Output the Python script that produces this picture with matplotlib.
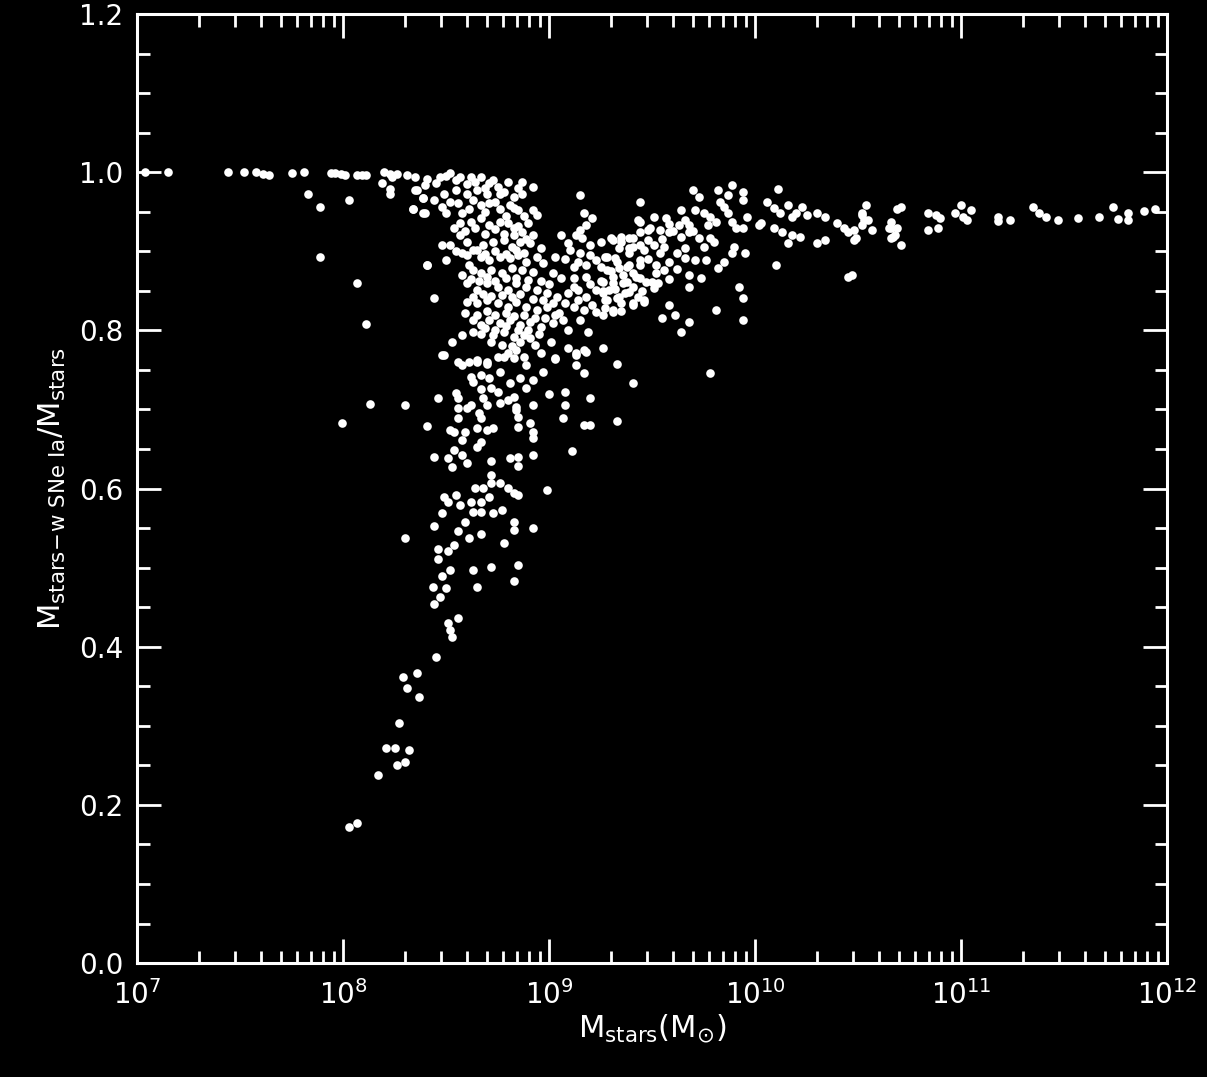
import numpy as np
import matplotlib
matplotlib.use('Agg')
import matplotlib.pyplot as plt
from matplotlib.ticker import MultipleLocator, LogLocator

# (log10 M_stars, M_stars-w SNe Ia / M_stars)
low_plateau = np.array([
    (7.04, 1.000), (7.15, 1.000), (7.44, 1.000), (7.52, 1.000), (7.58, 1.000),
    (7.61, 0.998), (7.64, 0.997), (7.75, 0.999), (7.81, 1.000), (7.94, 0.999),
    (7.96, 0.999), (7.99, 0.998), (8.01, 0.997), (8.07, 0.996), (8.09, 0.996),
    (8.11, 0.997), (8.20, 1.000), (8.23, 0.998), (8.24, 0.994), (8.26, 0.998),
])

low_scatter = np.array([
    (7.83, 0.973), (7.89, 0.956), (7.89, 0.893), (8.03, 0.965), (8.07, 0.860),
    (8.11, 0.808), (7.995, 0.683), (8.13, 0.707), (8.30, 0.705), (8.30, 0.538),
    (8.19, 0.986), (8.23, 0.979), (8.34, 0.954), (8.39, 0.949), (8.39, 0.967),
    (8.35, 0.978), (8.41, 0.882), (8.23, 0.972),
])

tail = np.array([
    (8.437, 0.475), (8.50, 0.474), (8.65, 0.475), (8.47, 0.463), (8.44, 0.454),
    (8.51, 0.430), (8.56, 0.436), (8.52, 0.421), (8.53, 0.412), (8.45, 0.387),
    (8.36, 0.367), (8.29, 0.362), (8.31, 0.348), (8.37, 0.336), (8.27, 0.303),
    (8.21, 0.272), (8.25, 0.272), (8.32, 0.269), (8.30, 0.254), (8.26, 0.250),
    (8.17, 0.238), (8.07, 0.177), (8.03, 0.172),
])

mid_branch = np.array([
    (8.44, 0.552), (8.46, 0.523), (8.46, 0.511), (8.51, 0.521), (8.54, 0.528),
    (8.48, 0.490), (8.52, 0.497), (8.63, 0.497), (8.72, 0.501), (8.85, 0.503),
    (8.83, 0.483), (8.78, 0.531), (8.67, 0.542), (8.61, 0.537), (8.56, 0.546),
    (8.59, 0.558), (8.83, 0.547), (8.83, 0.558), (8.92, 0.550), (8.48, 0.569),
    (8.57, 0.579), (8.62, 0.583), (8.63, 0.570), (8.67, 0.570), (8.73, 0.569),
    (8.77, 0.573), (8.67, 0.583), (8.64, 0.601), (8.68, 0.601), (8.71, 0.589),
    (8.49, 0.589), (8.51, 0.583), (8.55, 0.592), (8.72, 0.617), (8.72, 0.607),
    (8.76, 0.607), (8.80, 0.601), (8.83, 0.594), (8.85, 0.592), (8.99, 0.598),
    (8.44, 0.640), (8.51, 0.638), (8.53, 0.627), (8.54, 0.649), (8.58, 0.642),
    (8.60, 0.632), (8.72, 0.635), (8.81, 0.638), (8.85, 0.640), (8.85, 0.628),
    (8.92, 0.642), (9.11, 0.647), (8.58, 0.661), (8.65, 0.652), (8.67, 0.659),
    (8.54, 0.671), (8.52, 0.674), (8.59, 0.671), (8.41, 0.679), (8.65, 0.676),
    (8.70, 0.674), (8.73, 0.676), (8.85, 0.678), (8.91, 0.683), (8.92, 0.671),
    (8.92, 0.664), (9.17, 0.680), (9.20, 0.680), (9.33, 0.686), (8.56, 0.689),
    (8.66, 0.695), (8.67, 0.689), (8.56, 0.702), (8.60, 0.702), (8.62, 0.705),
    (8.68, 0.714), (8.70, 0.705), (8.76, 0.708), (8.80, 0.712), (8.84, 0.703),
    (8.85, 0.690), (8.92, 0.705), (9.08, 0.705), (9.07, 0.689), (9.20, 0.714),
    (9.00, 0.719), (9.08, 0.722), (8.46, 0.714), (8.55, 0.721), (8.56, 0.714),
    (8.67, 0.726), (8.75, 0.722), (8.83, 0.716), (8.89, 0.727), (8.84, 0.699),
    (8.92, 0.737), (8.97, 0.747), (9.13, 0.756), (9.17, 0.746), (9.03, 0.764),
    (9.41, 0.733), (9.33, 0.758), (9.78, 0.746),
    (8.58, 0.756), (8.62, 0.741), (8.63, 0.735), (8.67, 0.743), (8.71, 0.740),
    (8.72, 0.727), (8.76, 0.747), (8.81, 0.733), (8.86, 0.740), (8.49, 0.769),
    (8.56, 0.760), (8.65, 0.760), (8.70, 0.758), (8.78, 0.766), (8.83, 0.765),
    (8.89, 0.756), (9.13, 0.769), (9.18, 0.772),
])

core = np.array([
    (8.31, 0.996), (8.35, 0.994), (8.41, 0.992), (8.47, 0.994), (8.52, 0.999),
    (8.57, 0.994), (8.62, 0.994), (8.67, 0.994), (8.71, 0.986), (8.75, 0.981),
    (8.80, 0.987), (8.87, 0.987), (8.92, 0.981), (9.15, 0.971),
    (8.36, 0.977), (8.40, 0.984), (8.45, 0.986), (8.39, 0.967), (8.34, 0.954),
    (8.40, 0.949), (8.44, 0.965), (8.49, 0.973), (8.55, 0.977), (8.60, 0.973),
    (8.65, 0.977), (8.70, 0.973), (8.76, 0.973), (8.83, 0.968), (8.87, 0.973),
    (8.48, 0.956), (8.50, 0.948), (8.56, 0.961), (8.61, 0.954), (8.67, 0.958),
    (8.71, 0.961), (8.76, 0.954), (8.81, 0.958), (8.85, 0.952), (8.92, 0.952),
    (8.94, 0.946), (8.90, 0.936), (9.17, 0.948), (9.21, 0.942), (9.18, 0.933),
    (9.15, 0.927),
    (8.57, 0.936), (8.62, 0.937), (8.67, 0.942), (8.71, 0.933), (8.76, 0.937),
    (8.80, 0.936), (8.83, 0.930), (8.87, 0.924), (8.92, 0.920), (8.83, 0.920),
    (8.48, 0.908), (8.52, 0.908), (8.57, 0.920), (8.60, 0.912), (8.63, 0.901),
    (8.68, 0.908), (8.73, 0.912), (8.78, 0.914), (8.82, 0.905), (8.86, 0.912),
    (8.91, 0.910), (8.96, 0.904),
    (8.41, 0.882), (8.50, 0.889), (8.58, 0.898), (8.61, 0.882), (8.67, 0.893),
    (8.71, 0.889), (8.76, 0.893), (8.81, 0.891), (8.85, 0.895), (8.89, 0.886),
    (8.97, 0.885), (9.03, 0.893),
    (8.58, 0.870), (8.63, 0.876), (8.67, 0.872), (8.72, 0.876), (8.77, 0.872),
    (8.82, 0.879), (8.87, 0.876), (8.92, 0.874), (9.02, 0.872),
    (8.44, 0.841), (8.60, 0.860), (8.65, 0.851), (8.70, 0.860), (8.75, 0.855),
    (8.80, 0.851), (8.84, 0.860), (8.89, 0.855), (8.94, 0.851), (8.99, 0.847),
    (9.04, 0.842),
    (8.60, 0.836), (8.59, 0.822), (8.65, 0.834), (8.70, 0.838), (8.75, 0.834),
    (8.80, 0.829), (8.84, 0.836), (8.89, 0.829), (8.94, 0.826), (8.99, 0.829),
    (9.05, 0.822),
    (8.63, 0.813), (8.67, 0.807), (8.71, 0.813), (8.76, 0.809), (8.81, 0.813),
    (8.86, 0.807), (8.91, 0.810), (8.96, 0.804), (9.02, 0.809), (9.07, 0.813),
    (9.09, 0.800),
    (8.53, 0.785), (8.58, 0.794), (8.63, 0.798), (8.67, 0.796), (8.73, 0.794),
    (8.78, 0.798), (8.83, 0.791), (8.88, 0.794), (8.93, 0.781), (9.01, 0.785),
    (9.09, 0.778), (9.13, 0.771), (9.17, 0.775),
    (8.61, 0.760), (8.65, 0.762), (8.70, 0.760), (8.75, 0.766), (8.80, 0.771),
    (8.84, 0.775), (8.88, 0.766), (8.96, 0.771), (9.03, 0.765), (8.48, 0.769),
])

# extra galaxies packed into the crowded part of the distribution
core_fill = np.array([
    (8.50, 0.995), (8.55, 0.990), (8.60, 0.985), (8.64, 0.988), (8.69, 0.980),
    (8.73, 0.990), (8.78, 0.975), (8.85, 0.980),
    (8.52, 0.962), (8.58, 0.948), (8.63, 0.965), (8.69, 0.950), (8.74, 0.962),
    (8.79, 0.944), (8.83, 0.955), (8.88, 0.945),
    (8.54, 0.930), (8.59, 0.926), (8.64, 0.930), (8.69, 0.922), (8.74, 0.928),
    (8.78, 0.922), (8.85, 0.932), (8.89, 0.915),
    (8.55, 0.900), (8.60, 0.895), (8.65, 0.902), (8.69, 0.896), (8.74, 0.900),
    (8.79, 0.897), (8.84, 0.902), (8.88, 0.898), (8.94, 0.893),
    (8.62, 0.865), (8.66, 0.862), (8.70, 0.868), (8.74, 0.862), (8.79, 0.866),
    (8.84, 0.866), (8.90, 0.864), (8.96, 0.862), (9.00, 0.858),
    (8.63, 0.842), (8.68, 0.846), (8.72, 0.843), (8.77, 0.845), (8.82, 0.842),
    (8.86, 0.846), (8.92, 0.840), (8.97, 0.838), (9.02, 0.835),
    (8.65, 0.820), (8.70, 0.825), (8.74, 0.820), (8.79, 0.822), (8.83, 0.818),
    (8.88, 0.820), (8.93, 0.816), (8.98, 0.815), (9.03, 0.820),
    (8.69, 0.803), (8.74, 0.800), (8.79, 0.805), (8.85, 0.800), (8.90, 0.800),
    (8.95, 0.795), (8.72, 0.785), (8.77, 0.782), (8.82, 0.780), (8.86, 0.785),
    (8.91, 0.790),
])

ridge = np.array([
    (9.06, 0.920), (9.09, 0.910), (9.13, 0.920), (9.16, 0.917), (9.20, 0.908),
    (9.25, 0.912), (9.30, 0.917), (9.35, 0.912), (9.41, 0.917), (9.39, 0.904),
    (9.44, 0.908), (9.10, 0.901), (9.15, 0.898),
    (9.12, 0.880), (9.18, 0.882), (9.23, 0.889), (9.28, 0.893), (9.33, 0.886),
    (9.39, 0.882), (9.44, 0.889),
    (9.06, 0.866), (9.12, 0.866), (9.18, 0.867), (9.25, 0.863), (9.31, 0.867),
    (9.36, 0.860), (9.42, 0.867), (9.47, 0.861),
    (9.09, 0.847), (9.14, 0.851), (9.18, 0.842), (9.23, 0.851), (9.28, 0.838),
    (9.34, 0.842), (9.41, 0.834), (9.46, 0.838),
    (9.12, 0.829), (9.17, 0.826), (9.23, 0.823), (9.31, 0.826),
    (9.15, 0.813), (9.19, 0.798), (9.26, 0.778),
    (9.44, 0.962), (9.70, 0.977), (9.73, 0.968), (9.82, 0.977), (9.89, 0.984),
    (9.87, 0.971), (9.94, 0.975), (9.94, 0.965), (10.11, 0.979), (9.83, 0.962),
    (9.85, 0.956), (9.87, 0.949), (9.64, 0.952), (9.71, 0.952), (9.75, 0.948),
    (9.78, 0.943), (9.81, 0.937), (9.77, 0.933), (9.89, 0.937), (9.96, 0.943),
    (9.91, 0.930), (9.94, 0.929), (10.02, 0.933), (10.03, 0.936),
    (9.44, 0.937), (9.48, 0.927),
    (9.51, 0.943), (9.57, 0.942), (9.43, 0.939), (9.63, 0.933), (9.68, 0.933),
    (9.49, 0.930), (9.54, 0.927), (9.58, 0.924), (9.44, 0.924), (9.68, 0.924),
    (9.64, 0.918), (9.73, 0.917), (9.78, 0.917), (9.39, 0.917), (9.31, 0.914),
    (9.35, 0.918), (9.48, 0.914), (9.51, 0.908), (9.56, 0.905), (9.66, 0.904),
    (9.75, 0.905), (9.80, 0.912), (9.34, 0.904), (9.41, 0.905), (9.46, 0.901),
    (9.27, 0.893), (9.32, 0.891), (9.39, 0.898), (9.54, 0.898), (9.62, 0.898),
    (9.66, 0.891), (9.71, 0.889), (9.76, 0.889), (9.90, 0.905), (9.95, 0.898),
    (9.89, 0.898), (9.85, 0.886), (9.82, 0.879), (9.58, 0.886), (9.52, 0.882),
    (9.56, 0.876), (9.44, 0.882), (9.38, 0.880), (9.28, 0.876), (9.34, 0.879),
    (9.41, 0.872), (9.44, 0.866), (9.68, 0.870), (9.74, 0.866), (9.26, 0.861),
    (9.31, 0.860), (9.38, 0.861), (9.50, 0.861), (9.53, 0.860), (9.41, 0.855),
    (9.29, 0.851), (9.51, 0.853), (9.68, 0.855), (9.92, 0.855), (9.37, 0.847),
    (9.43, 0.842), (9.33, 0.841), (9.27, 0.838), (9.26, 0.847), (9.46, 0.836),
    (9.41, 0.832), (9.35, 0.834), (9.31, 0.823), (9.94, 0.841), (9.58, 0.832),
    (9.61, 0.819), (9.55, 0.815), (9.81, 0.826), (9.68, 0.810), (9.64, 0.798),
    (9.94, 0.813), (9.26, 0.819),
])

ridge_fill = np.array([
    (9.08, 0.890), (9.14, 0.886), (9.20, 0.895), (9.25, 0.880), (9.30, 0.875),
    (9.36, 0.870), (9.12, 0.855), (9.20, 0.858), (9.26, 0.850), (9.32, 0.852),
    (9.39, 0.848), (9.08, 0.835), (9.14, 0.838), (9.21, 0.832), (9.27, 0.828),
    (9.35, 0.824), (9.45, 0.850), (9.52, 0.872), (9.58, 0.865), (9.62, 0.878),
    (9.48, 0.890), (9.55, 0.915), (9.60, 0.925), (9.66, 0.940), (9.70, 0.925),
    (9.58, 0.935),
])

high_mass = np.array([
    (10.06, 0.962), (10.09, 0.955), (10.12, 0.948), (10.16, 0.958), (10.18, 0.943),
    (10.20, 0.949), (10.23, 0.956), (10.25, 0.946), (10.30, 0.949), (10.34, 0.943),
    (10.09, 0.930), (10.13, 0.924), (10.18, 0.920), (10.16, 0.910), (10.22, 0.918),
    (10.30, 0.910), (10.34, 0.914), (10.40, 0.936), (10.43, 0.929), (10.45, 0.924),
    (10.48, 0.914), (10.52, 0.946), (10.54, 0.958), (10.55, 0.939), (10.57, 0.927),
    (10.66, 0.930), (10.67, 0.918), (10.69, 0.954), (10.10, 0.882), (10.45, 0.867),
    (10.52, 0.948), (10.53, 0.939), (10.52, 0.933), (10.48, 0.927), (10.49, 0.917),
    (10.47, 0.870), (10.71, 0.956), (10.66, 0.937), (10.65, 0.929), (10.69, 0.930),
    (10.66, 0.917), (10.68, 0.920), (10.71, 0.908), (10.84, 0.949), (10.88, 0.946),
    (10.90, 0.942), (10.84, 0.927), (10.89, 0.929), (11.00, 0.958), (10.97, 0.948),
    (11.01, 0.943), (11.03, 0.939), (11.05, 0.952), (11.18, 0.943), (11.18, 0.938),
    (11.24, 0.939), (11.35, 0.956), (11.38, 0.948), (11.41, 0.943), (11.47, 0.939),
    (11.57, 0.942), (11.67, 0.943), (11.74, 0.956), (11.76, 0.941), (11.81, 0.948),
    (11.81, 0.939), (11.89, 0.951), (11.94, 0.953),
])

groups = [low_plateau, low_scatter, tail, mid_branch, core, core_fill,
          ridge, ridge_fill, high_mass]
pts = np.vstack(groups)
mstars = 10.0 ** pts[:, 0]
frac = pts[:, 1]

plt.rcParams['font.family'] = 'DejaVu Sans'
plt.rcParams['mathtext.fontset'] = 'dejavusans'

fig = plt.figure(figsize=(12.07, 10.77), dpi=100, facecolor='black')
ax = fig.add_axes([0.1135, 0.1058, 0.8534, 0.8812], facecolor='black')

ax.plot(mstars, frac, 'o', color='white', markersize=6.2, markeredgewidth=0)

ax.set_xscale('log')
ax.set_xlim(1e7, 1e12)
ax.set_ylim(0.0, 1.2)

ax.xaxis.set_major_locator(LogLocator(base=10, numticks=10))
ax.xaxis.set_minor_locator(LogLocator(base=10, subs=np.arange(2, 10), numticks=20))
ax.yaxis.set_major_locator(MultipleLocator(0.2))
ax.yaxis.set_minor_locator(MultipleLocator(0.05))
ax.yaxis.set_major_formatter(plt.FormatStrFormatter('%.1f'))

for s in ax.spines.values():
    s.set_color('white')
    s.set_linewidth(2.2)

ax.tick_params(which='both', direction='in', top=True, right=True,
               colors='white', width=2)
ax.tick_params(which='major', length=17, labelsize=20)
ax.tick_params(which='minor', length=9)
ax.tick_params(axis='x', which='major', pad=12)
ax.tick_params(axis='y', which='major', pad=10)

ax.set_xlabel(r'$\mathrm{M}_{\rm stars}(\mathrm{M}_{\odot})$', color='white',
              fontsize=22, labelpad=2)
ax.set_ylabel(r'$\mathrm{M}_{\rm stars\!-\!w\ SNe\ Ia}/\mathrm{M}_{\rm stars}$',
              color='white', fontsize=22, labelpad=8)

plt.savefig('out.png', dpi=100, facecolor='black')
plt.close()
